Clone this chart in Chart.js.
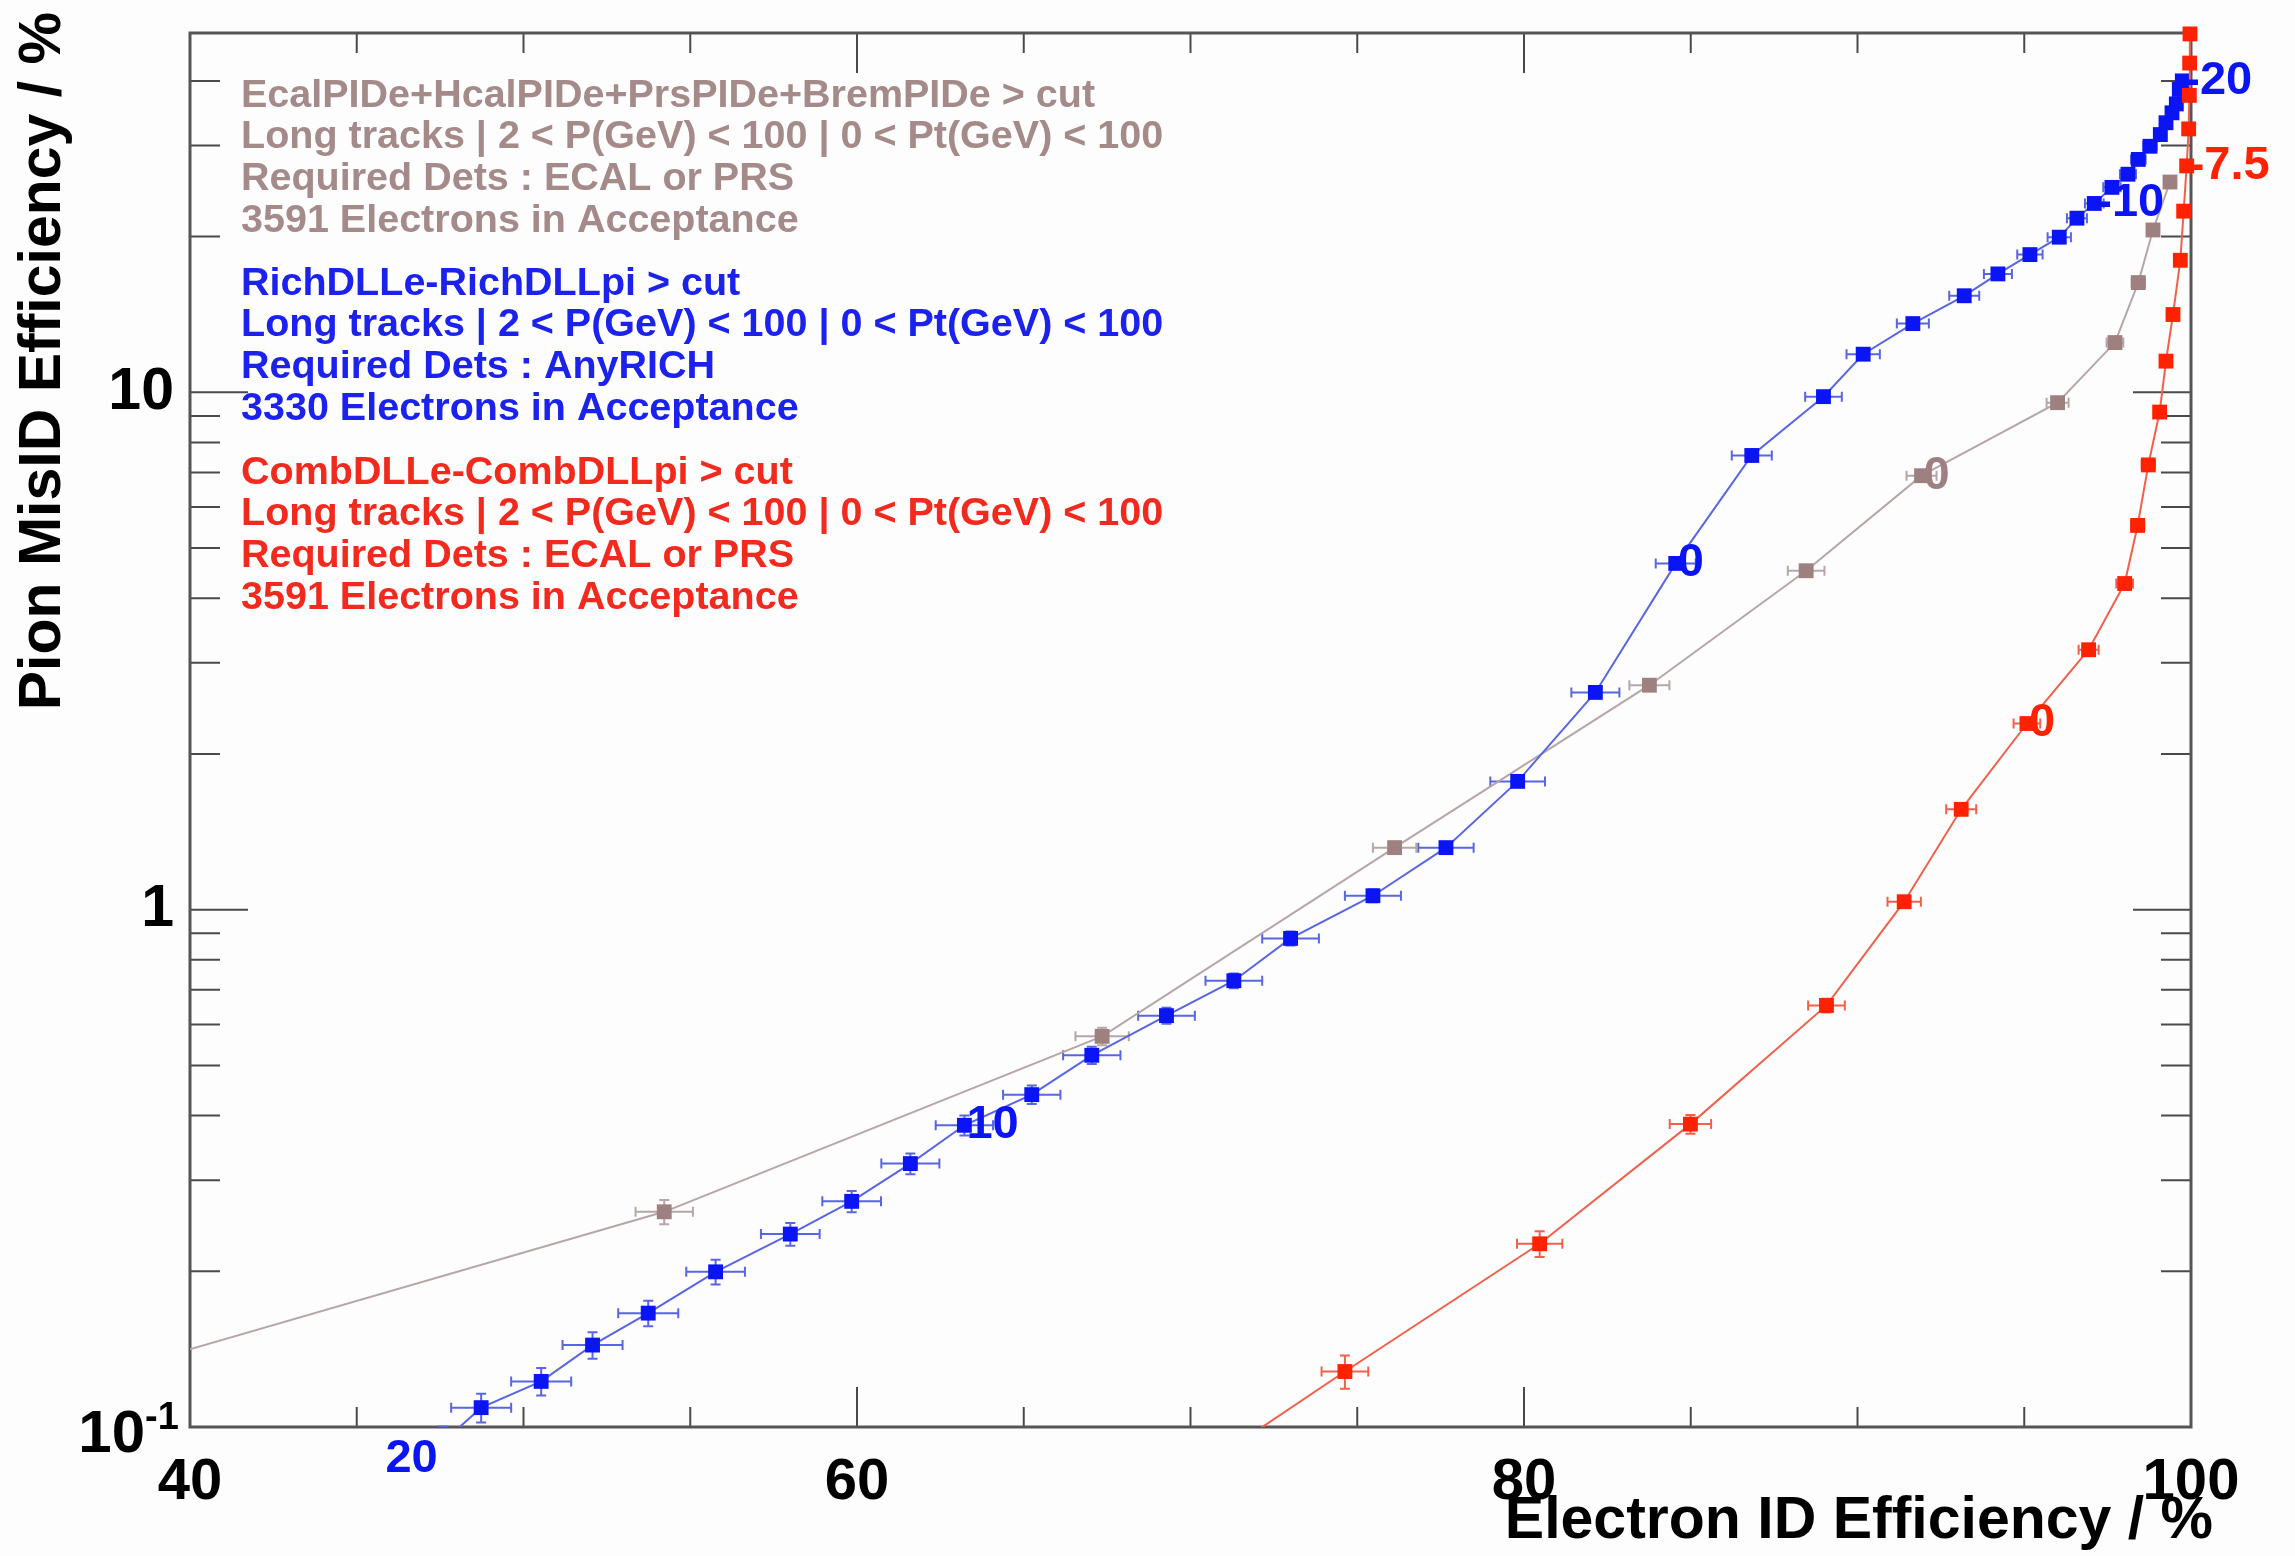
<!DOCTYPE html>
<html>
<head>
<meta charset="utf-8">
<script src="https://cdn.jsdelivr.net/npm/chart.js@4.4.1/dist/chart.umd.min.js"></script>
<style>
  html, body { margin: 0; padding: 0; background: #fdfdfd; }
  #wrap { width: 2295px; height: 1556px; }
</style>
</head>
<body>
<div id="wrap"><canvas id="c" width="2295" height="1556"></canvas></div>
<script>
// RichDLLe-RichDLLpi (blue), cut from 20 down to -20
const blueEff = [45.8, 47.6, 48.73, 50.53, 52.07, 53.74, 55.76, 58.0, 59.84, 61.6, 63.22, 65.24, 67.04, 69.28, 71.3, 73.0, 75.47, 77.66, 79.81, 82.14, 84.55, 86.83, 88.98, 90.17, 91.66, 93.2, 94.21, 95.17, 96.05, 96.58, 97.1, 97.63, 98.11, 98.42, 98.77, 99.08, 99.25, 99.43, 99.56, 99.65, 99.74];
const blueMisID = [0.0866, 0.0937, 0.109, 0.1225, 0.144, 0.166, 0.1995, 0.236, 0.273, 0.323, 0.383, 0.439, 0.523, 0.624, 0.729, 0.88, 1.064, 1.318, 1.77, 2.63, 4.67, 7.55, 9.81, 11.85, 13.58, 15.37, 16.94, 18.46, 19.95, 21.71, 23.18, 24.9, 26.4, 28.2, 29.9, 31.5, 33.2, 34.7, 36.1, 38.5, 40.0];
const blueEffErr = [1.0, 0.95, 0.9, 0.9, 0.9, 0.9, 0.88, 0.88, 0.88, 0.87, 0.86, 0.86, 0.86, 0.85, 0.85, 0.85, 0.84, 0.83, 0.82, 0.72, 0.6, 0.6, 0.55, 0.5, 0.48, 0.45, 0.42, 0.38, 0.35, 0.3, 0.28, 0.26, 0.24, 0.22, 0.2, 0.18, 0.16, 0.14, 0.12, 0.1, 0.1];
const blueMisIDErr = [0.006, 0.0065, 0.007, 0.0075, 0.0085, 0.0095, 0.011, 0.012, 0.013, 0.015, 0.017, 0.018, 0.02, 0.022, 0.024, 0.027, 0.03, 0.033, 0.04, 0.05, 0.07, 0.09, 0.1, 0.12, 0.13, 0.14, 0.15, 0.16, 0.17, 0.18, 0.19, 0.2, 0.2, 0.2, 0.2, 0.2, 0.2, 0.2, 0.2, 0.2, 0.2];
const blueCutIdx = [0, 10, 20, 30, 40];
const blueCutText = ['20', '10', '0', '-10', '-20'];

// CombDLLe-CombDLLpi (red)
const redEff = [69.4, 74.63, 80.47, 84.99, 89.07, 91.4, 93.11, 95.08, 96.93, 98.01, 98.4, 98.72, 99.06, 99.25, 99.46, 99.68, 99.78, 99.87, 99.93, 99.95, 99.96, 99.97];
const redMisID = [0.076, 0.128, 0.226, 0.385, 0.653, 1.036, 1.563, 2.29, 3.18, 4.27, 5.53, 7.24, 9.16, 11.49, 14.14, 18.0, 22.4, 27.4, 32.3, 37.5, 43.3, 49.3];
const redEffErr = [0.8, 0.7, 0.68, 0.62, 0.55, 0.5, 0.45, 0.4, 0.3, 0.25, 0.2, 0.2, 0.15, 0.15, 0.12, 0.1, 0.08, 0.06, 0.05, 0.04, 0.03, 0.02];
const redMisIDErr = [0.006, 0.0095, 0.013, 0.016, 0.02, 0.025, 0.03, 0.04, 0.05, 0.06, 0.07, 0.08, 0.09, 0.1, 0.11, 0.12, 0.13, 0.14, 0.15, 0.16, 0.17, 0.18];
const redCutIdx = [7, 17];
const redCutText = ['0', '-7.5'];

// EcalPIDe+HcalPIDe+PrsPIDe+BremPIDe (brown)
const brownEff = [35, 54.22, 67.35, 76.12, 83.76, 88.46, 91.92, 96.0, 97.72, 98.42, 98.86, 99.37];
const brownMisID = [0.114, 0.2606, 0.569, 1.318, 2.716, 4.52, 6.9, 9.55, 12.48, 16.3, 20.6, 25.5];
const brownEffErr = [1.0, 0.86, 0.8, 0.65, 0.6, 0.55, 0.45, 0.33, 0.25, 0.2, 0.17, 0.12];
const brownMisIDErr = [0.008, 0.014, 0.022, 0.035, 0.05, 0.06, 0.08, 0.1, 0.12, 0.14, 0.16, 0.18];
const brownCutIdx = [6];
const brownCutText = ['0'];

// axes
const xMajorTicks = [40, 60, 80, 100];
const xTickLabels = ['40', '60', '80', '100'];
const xMinorTicks = [45, 50, 55, 65, 70, 75, 85, 90, 95];
const yMajorTicks = [0.1, 1, 10];
const yTickLabels = ['10^-1', '1', '10'];
const yMinorTicks = [0.2, 0.3, 0.4, 0.5, 0.6, 0.7, 0.8, 0.9, 2, 3, 4, 5, 6, 7, 8, 9, 20, 30, 40];

const brownText = ['EcalPIDe+HcalPIDe+PrsPIDe+BremPIDe > cut', 'Long tracks | 2 < P(GeV) < 100 | 0 < Pt(GeV) < 100', 'Required Dets : ECAL or PRS', '3591 Electrons in Acceptance'];
const blueText = ['RichDLLe-RichDLLpi > cut', 'Long tracks | 2 < P(GeV) < 100 | 0 < Pt(GeV) < 100', 'Required Dets : AnyRICH', '3330 Electrons in Acceptance'];
const redText = ['CombDLLe-CombDLLpi > cut', 'Long tracks | 2 < P(GeV) < 100 | 0 < Pt(GeV) < 100', 'Required Dets : ECAL or PRS', '3591 Electrons in Acceptance'];

const FONT = '"Liberation Sans", Arial, sans-serif';

function toPoints(xs, ys) {
    return xs.map((v, i) => ({ x: v, y: ys[i] }));
}

function makeSet(xs, ys, xe, ye, marker, line, cutIdx, cutText) {
    return {
        data: toPoints(xs, ys),
        xErr: xe, yErr: ye,
        cutIdx: cutIdx, cutText: cutText,
        borderColor: line,
        borderWidth: 2,
        backgroundColor: marker,
        pointBackgroundColor: marker,
        pointBorderWidth: 0,
        pointStyle: 'rect',
        pointRadius: 10.5,
        tension: 0,
        clip: { left: 0, top: 14, right: 14, bottom: 0 },
        markerColor: marker
    };
}

// error bars with small caps, under the markers
const errorBars = {
    id: 'errorBars',
    beforeDatasetsDraw(chart) {
        const { ctx, chartArea: a, scales: { x, y } } = chart;
        ctx.save();
        ctx.beginPath();
        ctx.rect(a.left, a.top, a.right - a.left, a.bottom - a.top);
        ctx.clip();
        ctx.lineWidth = 2;
        chart.data.datasets.forEach(ds => {
            ctx.strokeStyle = ds.borderColor;
            ds.data.forEach((p, i) => {
                const px = x.getPixelForValue(p.x), py = y.getPixelForValue(p.y);
                const x0 = x.getPixelForValue(p.x - ds.xErr[i]), x1 = x.getPixelForValue(p.x + ds.xErr[i]);
                const y0 = y.getPixelForValue(p.y - ds.yErr[i]), y1 = y.getPixelForValue(p.y + ds.yErr[i]);
                const c = 5;
                ctx.beginPath();
                ctx.moveTo(x0, py); ctx.lineTo(x1, py);
                ctx.moveTo(x0, py - c); ctx.lineTo(x0, py + c);
                ctx.moveTo(x1, py - c); ctx.lineTo(x1, py + c);
                ctx.moveTo(px, y0); ctx.lineTo(px, y1);
                ctx.moveTo(px - c, y0); ctx.lineTo(px + c, y0);
                ctx.moveTo(px - c, y1); ctx.lineTo(px + c, y1);
                ctx.stroke();
            });
        });
        ctx.restore();
    }
};

// ROOT style frame with inward ticks
const frameAxes = {
    id: 'frameAxes',
    beforeDatasetsDraw(chart) {
        const { ctx, chartArea: a, scales: { x, y } } = chart;
        ctx.save();
        ctx.strokeStyle = '#4a4a4a';
        ctx.lineWidth = 2;
        ctx.beginPath();
        xMajorTicks.concat(xMinorTicks).forEach(v => {
            const len = xMajorTicks.includes(v) ? 40 : 20;
            const px = x.getPixelForValue(v);
            ctx.moveTo(px, a.bottom); ctx.lineTo(px, a.bottom - len);
            ctx.moveTo(px, a.top); ctx.lineTo(px, a.top + len);
        });
        yMajorTicks.concat(yMinorTicks).forEach(v => {
            const len = yMajorTicks.includes(v) ? 58 : 30;
            const py = y.getPixelForValue(v);
            ctx.moveTo(a.left, py); ctx.lineTo(a.left + len, py);
            ctx.moveTo(a.right, py); ctx.lineTo(a.right - len, py);
        });
        ctx.stroke();
        ctx.strokeStyle = '#555555';
        ctx.lineWidth = 3;
        ctx.strokeRect(a.left, a.top, a.right - a.left, a.bottom - a.top);
        ctx.restore();
    },
    afterDatasetsDraw(chart) {
        const { ctx, chartArea: a, scales: { x, y } } = chart;
        ctx.save();
        ctx.fillStyle = '#000';

        // x tick labels
        ctx.font = 'bold 58px ' + FONT;
        ctx.textAlign = 'center';
        ctx.textBaseline = 'middle';
        xMajorTicks.forEach((v, i) => ctx.fillText(xTickLabels[i], x.getPixelForValue(v), a.bottom + 56));

        // y tick labels
        yMajorTicks.forEach((v, i) => {
            const py = y.getPixelForValue(v);
            const lab = yTickLabels[i];
            if (lab.includes('^')) {
                const [base, exp] = lab.split('^');
                ctx.font = 'bold 60px ' + FONT;
                ctx.textAlign = 'right';
                ctx.fillText(base, a.left - 45, py + 8);
                ctx.font = 'bold 38px ' + FONT;
                ctx.textAlign = 'left';
                ctx.fillText(exp, a.left - 45, py - 8);
            } else {
                ctx.font = 'bold 59px ' + FONT;
                ctx.textAlign = 'right';
                ctx.fillText(lab, a.left - 16, py);
            }
        });

        // axis titles
        ctx.font = 'bold 59px ' + FONT;
        ctx.textAlign = 'right';
        ctx.fillText('Electron ID Efficiency / %', 2213, 1522);
        ctx.save();
        ctx.translate(44, 12);
        ctx.rotate(-Math.PI / 2);
        ctx.font = 'bold 59px ' + FONT;
        ctx.textAlign = 'right';
        ctx.fillText('Pion MisID Efficiency / %', 0, 0);
        ctx.restore();

        // cut value labels next to the points
        ctx.font = 'bold 47px ' + FONT;
        ctx.textAlign = 'left';
        chart.data.datasets.forEach(ds => {
            ctx.fillStyle = ds.markerColor;
            ds.cutIdx.forEach((k, j) => {
                const p = ds.data[k];
                ctx.fillText(ds.cutText[j], x.getPixelForValue(p.x) + 2, y.getPixelForValue(p.y));
            });
        });

        // text blocks
        ctx.font = 'bold 39.5px ' + FONT;
        const blocks = [[brownText, '#a58a8a', 96], [blueText, '#1c22ee', 284], [redText, '#f22a1e', 473]];
        blocks.forEach(([lines, col, y0]) => {
            ctx.fillStyle = col;
            lines.forEach((t, i) => ctx.fillText(t, 241, y0 + i * 41.6));
        });
        ctx.restore();
    }
};

new Chart(document.getElementById('c').getContext('2d'), {
    type: 'line',
    data: {
        datasets: [
            makeSet(redEff, redMisID, redEffErr, redMisIDErr, '#ff2200', '#f2604c', redCutIdx, redCutText),
            makeSet(blueEff, blueMisID, blueEffErr, blueMisIDErr, '#0a14f5', '#5866e4', blueCutIdx, blueCutText),
            makeSet(brownEff, brownMisID, brownEffErr, brownMisIDErr, '#9e8080', '#b6a6a6', brownCutIdx, brownCutText)
        ]
    },
    options: {
        responsive: false,
        animation: false,
        devicePixelRatio: 1,
        layout: { padding: { left: 0, right: 104, top: 33, bottom: 0 } },
        scales: {
            x: {
                type: 'linear', min: 40, max: 100,
                grid: { display: false }, border: { display: false },
                ticks: { display: false },
                afterFit(s) { s.height = 129; }
            },
            y: {
                type: 'logarithmic', min: 0.1, max: 49.5,
                grid: { display: false }, border: { display: false },
                ticks: { display: false },
                afterFit(s) { s.width = 190; }
            }
        },
        plugins: {
            legend: { display: false },
            tooltip: { enabled: false }
        }
    },
    plugins: [frameAxes, errorBars]
});
</script>
</body>
</html>
